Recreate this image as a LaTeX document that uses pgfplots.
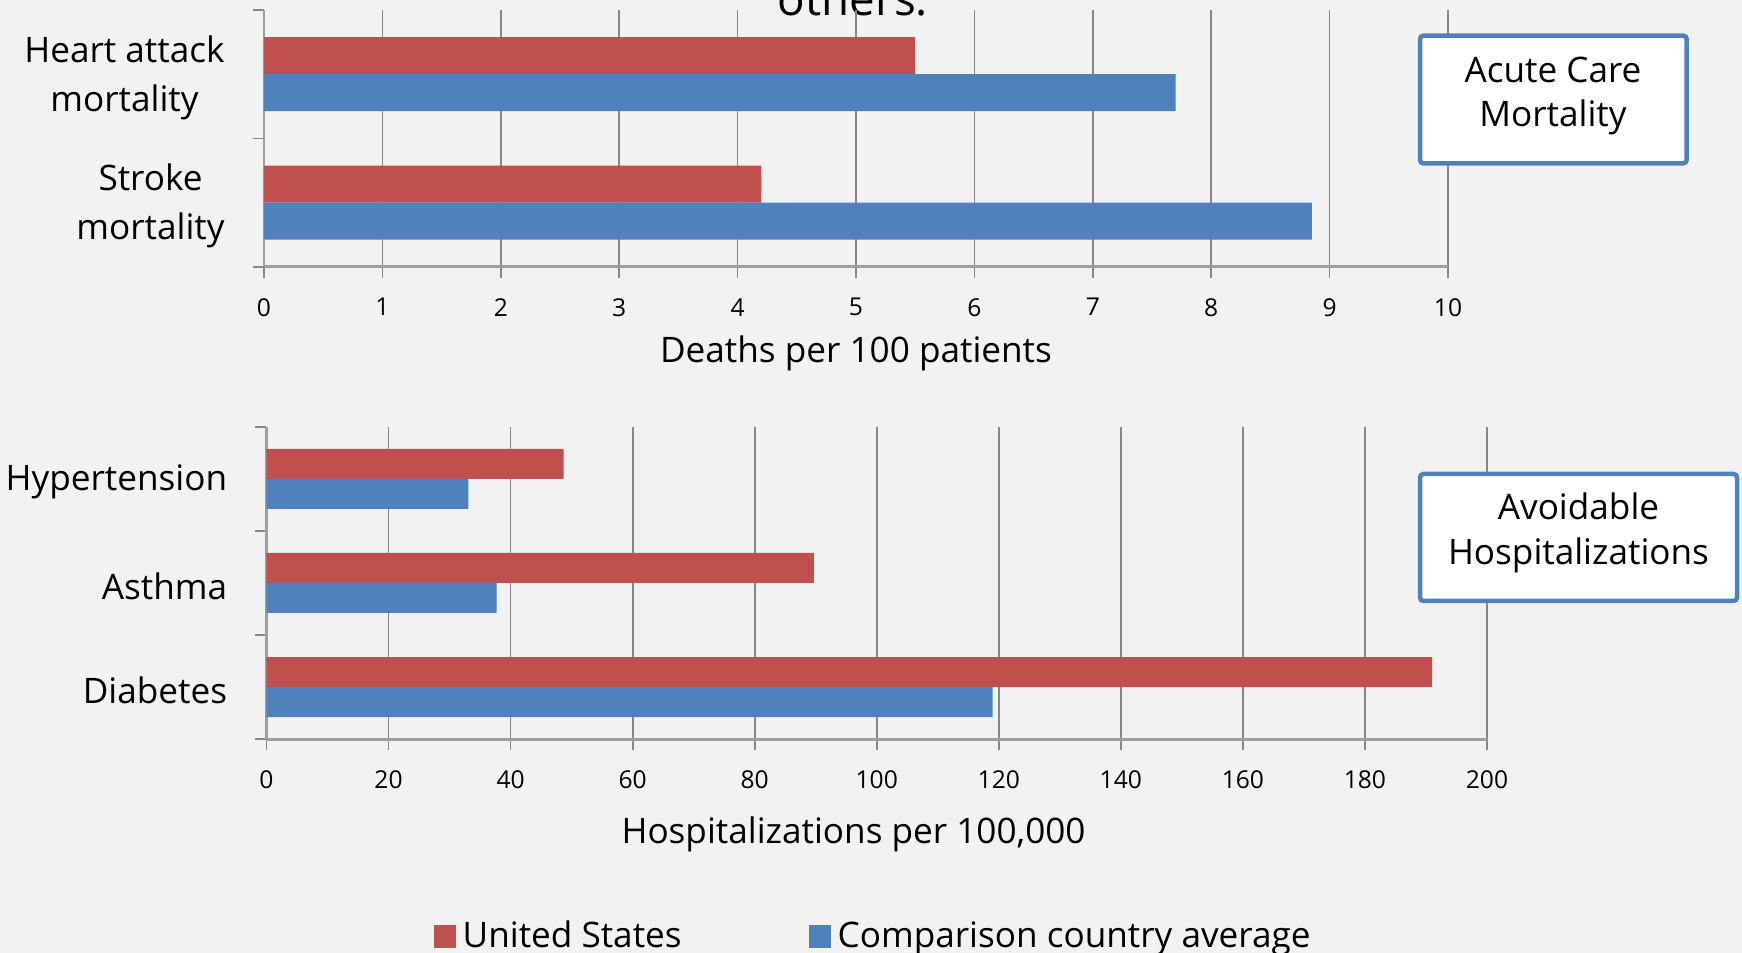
\documentclass[border=0pt]{standalone}
\usepackage{fontspec}
\setmainfont{Open Sans}
\usepackage{pgfplots}
\pgfplotsset{compat=1.18}
\definecolor{usred}{HTML}{C0504D}
\definecolor{cmpblue}{HTML}{4F81BD}
\definecolor{bg}{HTML}{F2F2F2}
\definecolor{gridgray}{HTML}{868686}

\pgfplotsset{
  hbar/.style={
    scale only axis,
    axis lines*=left,
    axis line style={draw=gridgray!80, line width=0.85pt},
    xmajorgrids,
    major grid style={draw=gridgray, line width=0.5pt},
    tick style={draw=gridgray, line width=0.5pt},
    tick align=outside,
    major tick length=0.11cm,
    xmin=0, ymin=0,
    bar width=0.288,
    /pgf/number format/assume math mode=true,
    xticklabel style={font=\fontsize{7}{8}\selectfont, yshift=-0.08cm},
    yticklabel style={font=\fontsize{10}{14}\selectfont, align=center, xshift=-0.16cm, yshift=-0.035cm},
    extra y tick style={tick style={draw=none}},
    label style={font=\fontsize{10}{12}\selectfont},
    clip=false,
  },
}

\begin{document}
\begin{tikzpicture}
\fill[bg] (0,0) rectangle (17.42cm,9.53cm);
\useasboundingbox (0,0) rectangle (17.42cm,9.53cm);

% title, cut off by the top edge as in the source
\node[anchor=base, font=\fontsize{13}{15}\selectfont] at (8.53cm,9.37cm) {others.};

% acute care mortality
\begin{axis}[hbar,
  at={(2.64cm,6.86cm)}, anchor=south west,
  width=11.84cm, height=2.57cm,
  xmax=10, ymax=2,
  xtick={0,1,...,10},
  ytick={0,1,2}, yticklabels={,,},
  extra y ticks={0.5,1.5},
  extra y tick labels={{Stroke\\mortality},{Heart attack\\mortality}},
  xlabel={Deaths per 100 patients},
  xlabel style={at={(axis description cs:0.5,0)}, anchor=center, yshift=-0.865cm},
]
\addplot[xbar, fill=usred, draw=none, bar shift=0.144] coordinates {(4.2,0.5) (5.5,1.5)};
\addplot[xbar, fill=cmpblue, draw=none, bar shift=-0.144] coordinates {(8.85,0.5) (7.7,1.5)};
\end{axis}

% avoidable hospitalizations
\begin{axis}[hbar,
  at={(2.665cm,2.137cm)}, anchor=south west,
  width=12.205cm, height=3.126cm,
  xmax=200, ymax=3,
  xtick={0,20,...,200},
  ytick={0,1,2,3}, yticklabels={,,,},
  extra y ticks={0.5,1.5,2.5},
  extra y tick labels={Diabetes,Asthma,Hypertension},
  xlabel={Hospitalizations per 100,000},
  xlabel style={at={(axis description cs:0.481,0)}, anchor=center, yshift=-0.95cm},
  legend style={at={(axis description cs:0.1364,-0.632)}, anchor=west,
    draw=none, fill=none, inner sep=0pt, legend columns=2,
    font=\fontsize{10}{12}\selectfont,
    /tikz/every even column/.append style={column sep=1.2cm}},
  legend image code/.code={\fill (0cm,-0.11cm) rectangle (0.22cm,0.12cm);},
]
\addplot[xbar, fill=usred, draw=none, bar shift=0.144] coordinates {(191,0.5) (89.7,1.5) (48.7,2.5)};
\addlegendentry{United States}
\addplot[xbar, fill=cmpblue, draw=none, bar shift=-0.144] coordinates {(119,0.5) (37.7,1.5) (33.1,2.5)};
\addlegendentry{Comparison country average}
\end{axis}

% boxes
\draw[cmpblue, line width=1.28pt, fill=white, rounded corners=1pt] (14.20cm,7.896cm) rectangle (16.867cm,9.174cm);
\node[align=center, font=\fontsize{10}{12.5}\selectfont] at (15.53cm,8.57cm) {Acute Care\\Mortality};
\draw[cmpblue, line width=1.28pt, fill=white, rounded corners=1pt] (14.20cm,3.52cm) rectangle (17.37cm,4.79cm);
\node[align=center, font=\fontsize{10}{12.7}\selectfont] at (15.785cm,4.2cm) {Avoidable\\Hospitalizations};
\end{tikzpicture}
\end{document}
